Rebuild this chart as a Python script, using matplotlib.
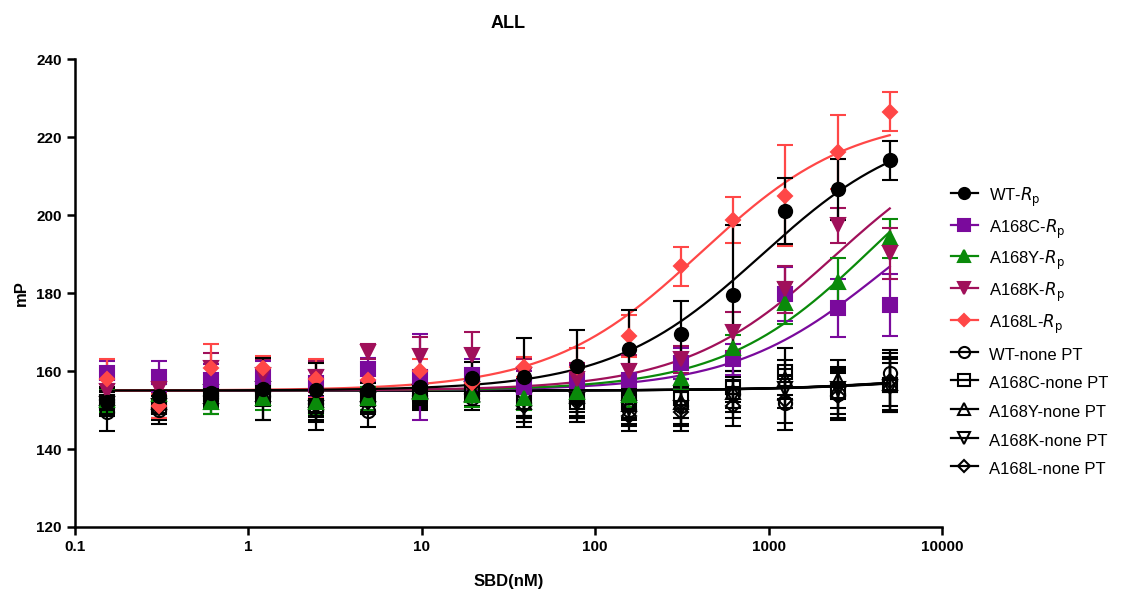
import numpy as np
import matplotlib
matplotlib.use("Agg")
import matplotlib.pyplot as plt
from matplotlib.lines import Line2D

plt.rcParams['font.family'] = ['Liberation Sans', 'DejaVu Sans']

# SBD concentration (nM), 2-fold dilution series
dose = [0.153, 0.305, 0.61, 1.22, 2.44, 4.88, 9.77, 19.5, 39.1, 78.1,
        156, 312, 625, 1250, 2500, 5000]

labels = ['WT-$R_\\mathrm{p}$', 'A168C-$R_\\mathrm{p}$', 'A168Y-$R_\\mathrm{p}$',
          'A168K-$R_\\mathrm{p}$', 'A168L-$R_\\mathrm{p}$',
          'WT-none PT', 'A168C-none PT', 'A168Y-none PT', 'A168K-none PT', 'A168L-none PT']

# mean mP
wt_rp = [152.1, 153.7, 154.3, 155.4, 155.1, 155.1, 155.8, 158.3, 158.4, 161.4,
         165.6, 169.5, 179.5, 201.0, 206.6, 214.1]
c_rp = [159.6, 158.5, 157.7, 158.5, 156.8, 160.4, 158.5, 159.0, 156.0, 157.5,
        157.7, 162.0, 163.0, 179.7, 176.2, 176.9]
y_rp = [152.5, 154.0, 152.1, 153.0, 152.1, 153.0, 154.7, 153.8, 153.0, 154.7,
        153.8, 158.1, 165.8, 177.4, 182.9, 194.0]
k_rp = [155.0, 155.5, 160.7, 159.0, 158.5, 165.0, 163.8, 164.1, 159.0, 158.0,
        160.0, 163.0, 170.1, 181.0, 197.4, 190.2]
l_rp = [158.0, 151.0, 160.8, 160.8, 158.0, 157.7, 160.0, 157.0, 161.0, 161.0,
        169.0, 186.8, 198.7, 205.0, 216.2, 226.5]
wt_none = [149.5, 150.0, 153.0, 153.5, 150.0, 149.7, 153.0, 153.0, 151.7, 153.0,
           150.0, 151.0, 154.0, 151.9, 154.0, 159.5]
c_none = [152.0, 150.9, 154.0, 155.0, 151.0, 153.0, 154.0, 155.0, 153.0, 152.0,
          152.0, 153.0, 156.0, 159.8, 155.0, 156.5]
y_none = [153.0, 152.0, 153.5, 154.0, 152.5, 154.0, 155.0, 154.0, 152.0, 153.5,
          151.5, 152.0, 154.5, 157.9, 157.7, 157.0]
k_none = [151.5, 151.0, 154.5, 155.5, 150.5, 152.5, 154.5, 155.5, 152.5, 152.5,
          150.5, 150.5, 153.5, 155.5, 155.5, 156.0]
l_none = [152.5, 150.5, 153.5, 154.5, 151.5, 152.0, 153.5, 154.0, 151.0, 152.0,
          148.5, 149.5, 151.0, 152.6, 153.5, 157.5]

# SD
wt_rp_sd = [3.5, 3.0, 4.0, 8.0, 7.0, 4.0, 4.0, 4.0, 10.0, 9.0,
            10.0, 8.5, 18.0, 8.5, 7.8, 5.0]
c_rp_sd = [3.0, 4.0, 4.0, 4.0, 3.5, 3.0, 11.0, 4.0, 4.0, 4.0,
           4.0, 4.0, 4.0, 7.0, 7.5, 8.0]
y_rp_sd = [3.0, 3.0, 3.0, 3.0, 3.0, 3.0, 3.0, 3.0, 3.0, 3.0,
           3.0, 3.0, 3.5, 5.3, 6.0, 5.0]
k_rp_sd = [4.0, 4.0, 4.0, 4.0, 4.0, 2.0, 5.0, 6.0, 4.0, 4.0,
           4.0, 3.5, 5.0, 6.0, 4.5, 6.5]
l_rp_sd = [5.0, 3.0, 6.0, 3.0, 5.0, 3.0, 3.0, 3.0, 2.5, 5.0,
           5.4, 5.0, 6.0, 13.0, 9.5, 5.0]
wt_none_sd = [5.0, 3.5, 4.0, 6.0, 5.0, 4.0, 3.0, 3.0, 6.0, 5.0,
              4.0, 5.0, 6.0, 7.0, 6.0, 5.0]
c_none_sd = [3.0, 3.0, 3.0, 3.0, 4.0, 3.0, 3.0, 3.0, 5.0, 5.0,
             4.0, 5.0, 4.0, 6.0, 6.0, 7.0]
y_none_sd = [3.0, 3.0, 3.0, 3.0, 3.0, 3.0, 3.0, 3.0, 4.0, 4.0,
             4.0, 4.0, 4.0, 5.0, 5.0, 6.0]
k_none_sd = [3.0, 3.0, 3.0, 3.0, 3.0, 3.0, 3.0, 3.0, 4.0, 4.0,
             4.0, 4.0, 4.0, 5.0, 5.0, 6.0]
l_none_sd = [3.0, 3.0, 3.0, 3.0, 3.0, 3.0, 3.0, 3.0, 4.0, 4.0,
             4.0, 5.0, 5.0, 6.0, 6.0, 8.0]

# 4PL fit parameters (bottom, top, EC50, hill)
fit_bottom = [155.0, 155.0, 155.0, 155.0, 155.0, 155.0, 155.0, 155.0, 155.0, 155.0]
fit_top = [224.3, 216.0, 228.5, 224.3, 225.8, 160.0, 160.0, 160.0, 160.0, 160.0]
fit_ec50 = [906, 4597, 4031, 2422, 407, 8000, 8500, 7500, 9000, 8000]
fit_hill = [1.0, 1.0, 1.0, 1.0, 1.0, 1.0, 1.0, 1.0, 1.0, 1.0]

means = [wt_rp, c_rp, y_rp, k_rp, l_rp, wt_none, c_none, y_none, k_none, l_none]
sds = [wt_rp_sd, c_rp_sd, y_rp_sd, k_rp_sd, l_rp_sd,
       wt_none_sd, c_none_sd, y_none_sd, k_none_sd, l_none_sd]
colors = ['black', '#7A0A9C', '#0A8A0A', '#A0105A', '#FF4747',
          'black', 'black', 'black', 'black', 'black']
markers = ['o', 's', '^', 'v', 'D', 'o', 's', '^', 'v', 'D']
filled = [True] * 5 + [False] * 5

fig = plt.figure(figsize=(11.21, 5.92), dpi=100)
ax = fig.add_axes([0.0669, 0.1098, 0.7734, 0.7905])

xfit = np.geomspace(dose[0], dose[-1], 300)
order = [5, 6, 7, 8, 9, 1, 2, 3, 4, 0]
for i in order:
    c = colors[i]
    yfit = fit_bottom[i] + (fit_top[i] - fit_bottom[i]) / (1 + (fit_ec50[i] / xfit) ** fit_hill[i])
    ax.plot(xfit, yfit, color=c, lw=1.6, zorder=2)
    ms = 9.5 if markers[i] != 'D' else 7.5
    ax.errorbar(dose, means[i], yerr=sds[i], fmt=markers[i], color=c, ecolor=c,
                elinewidth=1.6, capsize=6, capthick=1.6, ms=ms,
                mfc=c if filled[i] else 'none', mec=c, mew=1.5, zorder=3)

ax.set_xscale('log')
ax.set_xlim(0.1, 10000)
ax.set_ylim(120, 240)
ax.set_yticks(range(120, 241, 20))
ax.set_xticks([0.1, 1, 10, 100, 1000, 10000])
ax.set_xticklabels(['0.1', '1', '10', '100', '1000', '10000'])
ax.xaxis.set_minor_locator(matplotlib.ticker.NullLocator())
for s in ['top', 'right']:
    ax.spines[s].set_visible(False)
for s in ['left', 'bottom']:
    ax.spines[s].set_linewidth(1.8)
ax.tick_params(width=1.8, length=6, labelsize=11)
for t in ax.get_xticklabels() + ax.get_yticklabels():
    t.set_fontweight('bold')

ax.set_xlabel('SBD(nM)', fontsize=12, fontweight='bold', labelpad=14)
ax.set_ylabel('mP', fontsize=12, fontweight='bold', labelpad=5)
ax.set_title('ALL', fontsize=13, fontweight='bold', pad=22)

handles = []
for i in range(10):
    ms = 8 if markers[i] != 'D' else 6
    handles.append(Line2D([], [], color=colors[i], marker=markers[i], ms=ms, lw=1.6,
                          mfc=colors[i] if filled[i] else 'none', mec=colors[i], mew=1.5))
fig.legend(handles, labels, loc='upper left', bbox_to_anchor=(0.835, 0.713),
           frameon=False, fontsize=12, handlelength=1.6, handleheight=1.55,
           labelspacing=0.47, handletextpad=0.7)

fig.savefig('out.png', dpi=100)
